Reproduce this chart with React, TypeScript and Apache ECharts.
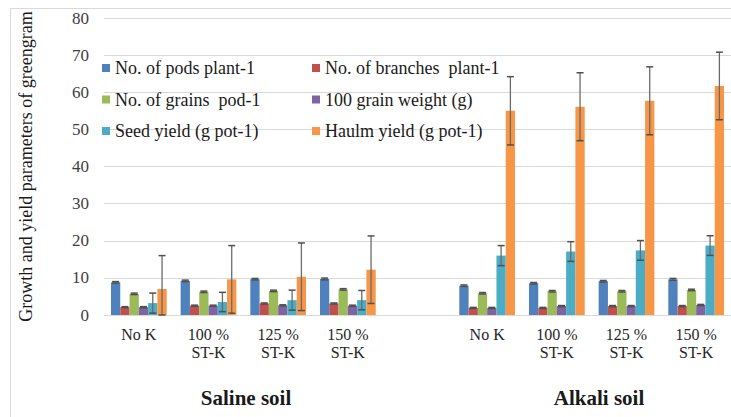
import React, { useEffect, useRef } from "react";
import * as echarts from "echarts";

const categories = ["No K", "100 %\nST-K", "125 %\nST-K", "150 %\nST-K", "", "No K", "100 %\nST-K", "125 %\nST-K", "150 %\nST-K"];
const seriesNames = [
  "No. of pods plant-1",
  "No. of branches  plant-1",
  "No. of grains  pod-1",
  "100 grain weight (g)",
  "Seed yield (g pot-1)",
  "Haulm yield (g pot-1)",
];
// values per category (null = empty spacer slot)
const podsPlant = [8.8, 9.2, 9.65, 9.7, null, 7.9, 8.55, 9.1, 9.6];
const branchesPlant = [2.1, 2.5, 3.1, 3.1, null, 1.9, 1.9, 2.4, 2.4];
const grainsPod = [5.7, 6.25, 6.5, 6.9, null, 5.85, 6.4, 6.4, 6.75];
const grainWeight = [2.1, 2.5, 2.6, 2.5, null, 1.9, 2.4, 2.4, 2.7];
const seedYield = [3.2, 3.5, 4.0, 4.0, null, 16.0, 17.1, 17.4, 18.7];
const haulmYield = [7.0, 9.6, 10.3, 12.2, null, 55.0, 56.1, 57.7, 61.7];
// error (± half-range) per category
const podsErr = [0.2, 0.2, 0.2, 0.25, null, 0.2, 0.2, 0.2, 0.25];
const branchesErr = [0.15, 0.15, 0.15, 0.15, null, 0.15, 0.15, 0.15, 0.15];
const grainsErr = [0.2, 0.2, 0.2, 0.2, null, 0.2, 0.2, 0.2, 0.2];
const weightErr = [0.15, 0.15, 0.15, 0.15, null, 0.15, 0.15, 0.15, 0.15];
const seedErr = [2.7, 2.6, 2.7, 2.6, null, 2.7, 2.65, 2.65, 2.65];
const haulmErr = [9.0, 9.1, 9.1, 9.1, null, 9.2, 9.15, 9.15, 9.1];
const groupLabels = ["Saline soil", "Alkali soil"];
const yAxisTitle = "Growth and yield parameters of greengram";

const colors = ["#4F81BD", "#C0504D", "#9BBB59", "#8064A2", "#4BACC6", "#F79646"];
const FONT = "Liberation Serif";

export default function App() {
  const ref = useRef<HTMLDivElement>(null);
  useEffect(() => {
    if (!ref.current) return;
    const chart = echarts.init(ref.current, undefined, { renderer: "svg" });
    const values = [podsPlant, branchesPlant, grainsPod, grainWeight, seedYield, haulmYield];
    const errs = [podsErr, branchesErr, grainsErr, weightErr, seedErr, haulmErr];
    const nBars = values.length;
    const catGapRatio = 0.2;

    const errData: any[] = [];
    values.forEach((arr, s) => {
      arr.forEach((v, c) => {
        const e = errs[s][c];
        if (v == null || e == null) return;
        errData.push([c, s, Math.max(0, v - e), v + e]);
      });
    });

    const barSeries = values.map((arr, s) => ({
      name: seriesNames[s],
      type: "bar",
      data: arr.map((v) => (v == null ? "-" : v)),
      barGap: "0%",
      barCategoryGap: "20%",
      itemStyle: { color: colors[s] },
      z: 2,
    }));

    const errSeries = {
      type: "custom",
      name: "err",
      data: errData,
      encode: { x: 0, y: [2, 3] },
      z: 5,
      silent: true,
      renderItem: (params: any, api: any) => {
        const c = api.value(0);
        const s = api.value(1);
        const band = api.size([1, 0])[0];
        const groupW = band * (1 - catGapRatio);
        const barW = groupW / nBars;
        const cx = api.coord([c, 0])[0] - groupW / 2 + (s + 0.5) * barW;
        const yLow = api.coord([c, api.value(2)])[1];
        const yHigh = api.coord([c, api.value(3)])[1];
        const hw = 3.5;
        return {
          type: "group",
          children: [
            { type: "line", shape: { x1: cx, y1: yLow, x2: cx, y2: yHigh }, style: { stroke: "#6b6b6b", lineWidth: 1.3 } },
            { type: "line", shape: { x1: cx - hw, y1: yHigh, x2: cx + hw, y2: yHigh }, style: { stroke: "#505050", lineWidth: 1.5 } },
            { type: "line", shape: { x1: cx - hw, y1: yLow, x2: cx + hw, y2: yLow }, style: { stroke: "#505050", lineWidth: 1.5 } },
          ],
        };
      },
    };

    const legendText = { fontFamily: FONT, fontSize: 18, color: "#1a1a1a", lineHeight: 20 };

    chart.setOption({
      animation: false,
      backgroundColor: "#ffffff",
      textStyle: { fontFamily: FONT },
      grid: { left: 104, top: 18, width: 630, height: 297 },
      legend: [
        {
          data: [seriesNames[0], seriesNames[2], seriesNames[4]],
          orient: "vertical",
          left: 97,
          top: 53,
          itemWidth: 8,
          itemHeight: 8,
          itemGap: 11.5,
          icon: "rect",
          textStyle: legendText,
        },
        {
          data: [seriesNames[1], seriesNames[3], seriesNames[5]],
          orient: "vertical",
          left: 307,
          top: 53,
          itemWidth: 8,
          itemHeight: 8,
          itemGap: 11.5,
          icon: "rect",
          textStyle: legendText,
        },
      ],
      xAxis: {
        type: "category",
        data: categories,
        axisTick: { show: false },
        axisLine: { lineStyle: { color: "#d9d9d9" } },
        axisLabel: {
          interval: 0,
          fontFamily: FONT,
          fontSize: 16,
          lineHeight: 18,
          color: "#262626",
          margin: 10,
        },
      },
      yAxis: {
        type: "value",
        min: 0,
        max: 80,
        interval: 10,
        name: yAxisTitle,
        nameLocation: "middle",
        nameRotate: 90,
        nameGap: 69,
        nameTextStyle: { fontFamily: FONT, fontSize: 18, color: "#1a1a1a" },
        axisLine: { show: false },
        axisTick: { show: false },
        axisLabel: { fontFamily: FONT, fontSize: 17, color: "#404040", margin: 15 },
        splitLine: { lineStyle: { color: "#d9d9d9", width: 1 } },
      },
      graphic: [
        {
          type: "rect",
          shape: { x: 10.5, y: 8.5, width: 900, height: 600 },
          style: { fill: "none", stroke: "#d9d9d9", lineWidth: 1 },
          silent: true,
          z: -1,
        },
        {
          type: "text",
          x: 246,
          y: 398,
          style: {
            text: groupLabels[0],
            fontFamily: FONT,
            fontSize: 21,
            fontWeight: "bold",
            fill: "#1a1a1a",
            align: "center",
            verticalAlign: "middle",
          },
        },
        {
          type: "text",
          x: 599,
          y: 398,
          style: {
            text: groupLabels[1],
            fontFamily: FONT,
            fontSize: 21,
            fontWeight: "bold",
            fill: "#1a1a1a",
            align: "center",
            verticalAlign: "middle",
          },
        },
      ],
      series: [...barSeries, errSeries],
    });
    return () => chart.dispose();
  }, []);
  return (
    <div
      ref={ref}
      style={{ position: "absolute", left: 0, top: 0, width: 731, height: 417 }}
    />
  );
}
